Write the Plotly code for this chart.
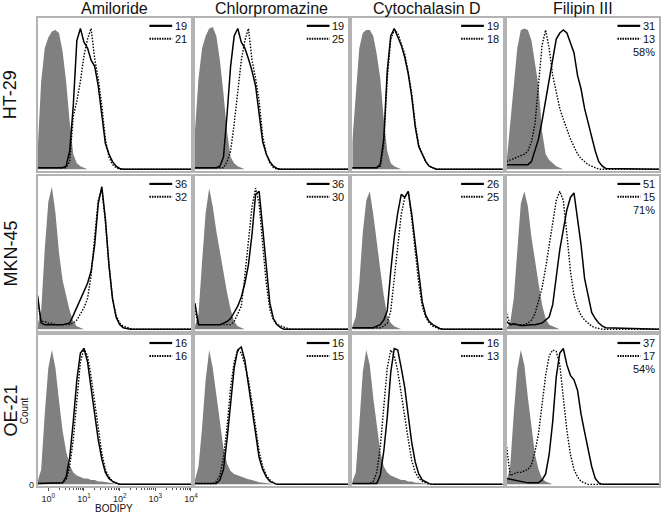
import plotly.graph_objects as go

W, H = 669, 517

# log10(BODIPY) positions shared by every histogram
LOG_X = [-0.3, -0.2, -0.1, 0.0, 0.1, 0.2, 0.3, 0.4, 0.5, 0.6, 0.7, 0.8, 0.9,
         1.0, 1.1, 1.2, 1.3, 1.4, 1.5, 1.6, 1.7, 1.8, 1.9, 2.0, 2.1, 2.2,
         2.3, 2.4, 2.5, 4.0]

DRUGS = ["Amiloride", "Chlorpromazine", "Cytochalasin D", "Filipin III"]
CELLS = ["HT-29", "MKN-45", "OE-21"]

# ---- HT-29 ----
ht29_amil_ctrl = [0.12, 0.58, 0.8, 0.87, 0.91, 0.92, 0.9, 0.78, 0.58, 0.31, 0.1, 0.04, 0.02, 0.01]
ht29_amil_solid = [0.01, 0.01, 0.01, 0.01, 0.01, 0.01, 0.01, 0.01, 0.02, 0.12, 0.42, 0.85, 0.93, 0.84,
                   0.8, 0.72, 0.68, 0.55, 0.36, 0.17, 0.1, 0.05, 0.02, 0.005]
ht29_amil_dot = [0.01, 0.01, 0.01, 0.01, 0.01, 0.01, 0.01, 0.01, 0.01, 0.05, 0.35, 0.45, 0.58, 0.75,
                 0.86, 0.93, 0.73, 0.6, 0.42, 0.2, 0.08, 0.03, 0.01]

ht29_chlor_ctrl = [0.25, 0.6, 0.8, 0.88, 0.93, 0.94, 0.88, 0.72, 0.5, 0.25, 0.08, 0.04, 0.02, 0.01]
ht29_chlor_solid = [0.01, 0.01, 0.01, 0.01, 0.01, 0.01, 0.01, 0.02, 0.08, 0.36, 0.68, 0.88, 0.93, 0.84,
                    0.8, 0.73, 0.65, 0.55, 0.38, 0.18, 0.1, 0.05, 0.02, 0.005]
ht29_chlor_dot = [0.01, 0.01, 0.01, 0.01, 0.01, 0.01, 0.01, 0.01, 0.01, 0.05, 0.12, 0.3, 0.5, 0.72,
                  0.85, 0.93, 0.72, 0.6, 0.45, 0.22, 0.1, 0.04, 0.01]

ht29_cyto_ctrl = [0.18, 0.47, 0.8, 0.9, 0.92, 0.92, 0.88, 0.76, 0.6, 0.33, 0.12, 0.04, 0.02, 0.01]
ht29_cyto_solid = [0.01, 0.01, 0.01, 0.01, 0.01, 0.01, 0.01, 0.01, 0.03, 0.2, 0.65, 0.88, 0.93, 0.88,
                   0.82, 0.74, 0.63, 0.48, 0.28, 0.15, 0.1, 0.05, 0.02, 0.01]
ht29_cyto_dot = [0.01, 0.01, 0.01, 0.01, 0.01, 0.01, 0.01, 0.01, 0.02, 0.16, 0.6, 0.86, 0.92, 0.9,
                 0.83, 0.76, 0.64, 0.5, 0.3, 0.16, 0.1, 0.05, 0.02, 0.01]

ht29_fili_ctrl = [0.05, 0.3, 0.6, 0.8, 0.92, 0.93, 0.92, 0.85, 0.7, 0.55, 0.25, 0.1, 0.06, 0.04, 0.02, 0.01]
ht29_fili_solid = [0.03, 0.03, 0.03, 0.03, 0.03, 0.03, 0.03, 0.05, 0.12, 0.2, 0.32, 0.45, 0.58, 0.73,
                   0.86, 0.9, 0.92, 0.9, 0.83, 0.77, 0.62, 0.53, 0.4, 0.3, 0.22, 0.12, 0.05, 0.02, 0.005]
ht29_fili_dot = [0.05, 0.06, 0.07, 0.08, 0.09, 0.1, 0.12, 0.18, 0.3, 0.55, 0.82, 0.92, 0.8, 0.62,
                 0.5, 0.4, 0.33, 0.26, 0.2, 0.15, 0.1, 0.07, 0.05, 0.03, 0.02, 0.01]

# ---- MKN-45 ----
mkn_amil_ctrl = [0.03, 0.12, 0.52, 0.83, 0.93, 0.76, 0.5, 0.32, 0.22, 0.12, 0.05, 0.02, 0.01]
mkn_amil_solid = [0.22, 0.04, 0.03, 0.03, 0.03, 0.03, 0.03, 0.03, 0.035, 0.04, 0.09, 0.14, 0.19, 0.24,
                  0.3, 0.38, 0.55, 0.82, 0.93, 0.72, 0.42, 0.2, 0.08, 0.03, 0.01, 0.005]
mkn_amil_dot = [0.18, 0.05, 0.05, 0.04, 0.04, 0.03, 0.03, 0.03, 0.03, 0.03, 0.04, 0.06, 0.1, 0.14,
                0.2, 0.35, 0.6, 0.84, 0.92, 0.7, 0.42, 0.2, 0.09, 0.04, 0.02, 0.01, 0.005]

mkn_chlor_ctrl = [0.02, 0.1, 0.44, 0.76, 0.92, 0.8, 0.64, 0.5, 0.37, 0.24, 0.13, 0.05, 0.02, 0.01]
mkn_chlor_solid = [0.17, 0.03, 0.03, 0.03, 0.03, 0.03, 0.03, 0.03, 0.04, 0.05, 0.07, 0.11, 0.15, 0.21,
                   0.3, 0.42, 0.62, 0.88, 0.9, 0.66, 0.4, 0.17, 0.07, 0.03, 0.01]
mkn_chlor_dot = [0.12, 0.03, 0.03, 0.03, 0.03, 0.03, 0.03, 0.03, 0.03, 0.03, 0.03, 0.05, 0.1, 0.15,
                 0.35, 0.58, 0.8, 0.92, 0.82, 0.55, 0.3, 0.13, 0.06, 0.03, 0.02, 0.01, 0.005]

mkn_cyto_ctrl = [0.02, 0.08, 0.3, 0.63, 0.84, 0.9, 0.75, 0.55, 0.39, 0.22, 0.09, 0.04, 0.02, 0.01]
mkn_cyto_solid = [0.01, 0.01, 0.01, 0.01, 0.01, 0.01, 0.01, 0.02, 0.03, 0.06, 0.12, 0.38, 0.6, 0.76,
                  0.88, 0.86, 0.9, 0.75, 0.56, 0.35, 0.18, 0.09, 0.05, 0.03, 0.015, 0.005]
mkn_cyto_dot = [0.01, 0.01, 0.01, 0.01, 0.01, 0.01, 0.01, 0.01, 0.01, 0.02, 0.04, 0.12, 0.32, 0.55,
                0.75, 0.86, 0.9, 0.72, 0.52, 0.3, 0.15, 0.08, 0.04, 0.02, 0.01]

mkn_fili_ctrl = [0.01, 0.04, 0.2, 0.52, 0.82, 0.9, 0.8, 0.6, 0.44, 0.3, 0.16, 0.07, 0.03, 0.02, 0.01]
mkn_fili_solid = [0.05, 0.03, 0.035, 0.03, 0.025, 0.025, 0.03, 0.03, 0.03, 0.035, 0.04, 0.06, 0.08, 0.16,
                  0.33, 0.52, 0.65, 0.78, 0.86, 0.89, 0.72, 0.55, 0.33, 0.21, 0.11, 0.07, 0.04, 0.02, 0.01]
mkn_fili_dot = [0.1, 0.03, 0.03, 0.03, 0.03, 0.03, 0.04, 0.06, 0.1, 0.18, 0.27, 0.4, 0.54, 0.69,
                0.84, 0.9, 0.84, 0.62, 0.38, 0.22, 0.14, 0.09, 0.06, 0.04, 0.02, 0.01, 0.005]

# ---- OE-21 ----
oe_amil_ctrl = [0.02, 0.1, 0.47, 0.78, 0.9, 0.78, 0.56, 0.36, 0.22, 0.13, 0.08, 0.06, 0.05, 0.04,
                0.04, 0.03, 0.03, 0.02, 0.02, 0.015, 0.01, 0.01, 0.005]
oe_amil_solid = [0.005, 0.005, 0.005, 0.005, 0.005, 0.005, 0.005, 0.01, 0.05, 0.18, 0.42, 0.7, 0.88, 0.91,
                 0.82, 0.66, 0.47, 0.3, 0.17, 0.08, 0.04, 0.02, 0.01]
oe_amil_dot = [0.005, 0.005, 0.005, 0.005, 0.005, 0.005, 0.005, 0.01, 0.03, 0.12, 0.3, 0.58, 0.82, 0.91,
               0.86, 0.72, 0.55, 0.36, 0.21, 0.1, 0.05, 0.02, 0.01]

oe_chlor_ctrl = [0.03, 0.12, 0.38, 0.7, 0.9, 0.78, 0.6, 0.4, 0.24, 0.14, 0.09, 0.07, 0.06, 0.05,
                 0.04, 0.035, 0.03, 0.02, 0.015, 0.01, 0.01, 0.005]
oe_chlor_solid = [0.005, 0.005, 0.005, 0.005, 0.005, 0.005, 0.005, 0.03, 0.1, 0.3, 0.53, 0.78, 0.9, 0.92,
                  0.83, 0.67, 0.5, 0.32, 0.18, 0.1, 0.05, 0.02, 0.01]
oe_chlor_dot = [0.005, 0.005, 0.005, 0.005, 0.005, 0.005, 0.02, 0.06, 0.18, 0.38, 0.65, 0.82, 0.9, 0.88,
                0.8, 0.7, 0.55, 0.38, 0.22, 0.12, 0.06, 0.03, 0.01]

oe_cyto_ctrl = [0.02, 0.08, 0.4, 0.75, 0.9, 0.8, 0.58, 0.38, 0.22, 0.12, 0.08, 0.06, 0.05, 0.04,
                0.03, 0.03, 0.02, 0.02, 0.01, 0.01, 0.005]
oe_cyto_solid = [0.005, 0.005, 0.005, 0.005, 0.005, 0.005, 0.005, 0.005, 0.06, 0.22, 0.45, 0.75, 0.91, 0.9,
                 0.78, 0.65, 0.46, 0.28, 0.15, 0.07, 0.03, 0.015, 0.005]
oe_cyto_dot = [0.005, 0.005, 0.005, 0.005, 0.005, 0.005, 0.02, 0.08, 0.25, 0.5, 0.78, 0.9, 0.86, 0.76,
               0.6, 0.46, 0.3, 0.16, 0.08, 0.04, 0.02, 0.01]

oe_fili_ctrl = [0.02, 0.12, 0.47, 0.77, 0.9, 0.8, 0.58, 0.38, 0.2, 0.1, 0.04, 0.02, 0.01]
oe_fili_solid = [0.04, 0.035, 0.03, 0.025, 0.02, 0.015, 0.01, 0.01, 0.01, 0.01, 0.03, 0.07, 0.2, 0.42,
                 0.72, 0.88, 0.91, 0.8, 0.73, 0.7, 0.63, 0.47, 0.35, 0.24, 0.12, 0.04, 0.01]
oe_fili_dot = [0.25, 0.06, 0.07, 0.08, 0.08, 0.09, 0.1, 0.13, 0.22, 0.34, 0.54, 0.73, 0.86, 0.9,
               0.89, 0.8, 0.58, 0.36, 0.2, 0.1, 0.05, 0.02, 0.01]

# legend numbers (solid, dotted) and % where shown
solid_vals = [[19, 19, 19, 31], [36, 36, 26, 51], [16, 16, 16, 37]]
dot_vals = [[21, 25, 18, 13], [32, 30, 25, 15], [16, 15, 13, 17]]
pct_vals = [[None, None, None, "58%"], [None, None, None, "71%"], [None, None, None, "54%"]]

panels = [
    [(ht29_amil_ctrl, ht29_amil_solid, ht29_amil_dot), (ht29_chlor_ctrl, ht29_chlor_solid, ht29_chlor_dot),
     (ht29_cyto_ctrl, ht29_cyto_solid, ht29_cyto_dot), (ht29_fili_ctrl, ht29_fili_solid, ht29_fili_dot)],
    [(mkn_amil_ctrl, mkn_amil_solid, mkn_amil_dot), (mkn_chlor_ctrl, mkn_chlor_solid, mkn_chlor_dot),
     (mkn_cyto_ctrl, mkn_cyto_solid, mkn_cyto_dot), (mkn_fili_ctrl, mkn_fili_solid, mkn_fili_dot)],
    [(oe_amil_ctrl, oe_amil_solid, oe_amil_dot), (oe_chlor_ctrl, oe_chlor_solid, oe_chlor_dot),
     (oe_cyto_ctrl, oe_cyto_solid, oe_cyto_dot), (oe_fili_ctrl, oe_fili_solid, oe_fili_dot)],
]

# panel pixel boxes
COL_PX = [(38, 193), (197, 352), (356, 508), (512, 666)]
ROW_PX = [(18, 172), (177, 333), (337, 489)]

FONT = "Liberation Sans, Arial, sans-serif"
xs = [10 ** v for v in LOG_X]


def pad(vals):
    return vals + [0] * (len(LOG_X) - len(vals))


def px(x):
    return x / W


def py(y):
    return 1 - y / H


def note(x, y, text, size, anchor="center", angle=0, yanchor="middle"):
    return dict(x=px(x), y=py(y), xref="paper", yref="paper", text=text, showarrow=False,
                xanchor=anchor, yanchor=yanchor, textangle=angle, borderpad=0,
                font=dict(size=size, color="#111", family=FONT))


fig = go.Figure()
layout = {}
annotations = []
shapes = []

for r in range(3):
    for c in range(4):
        n = r * 4 + c + 1
        sfx = "" if n == 1 else str(n)
        ctrl, solid, dot = panels[r][c]
        xa, ya = "x" + sfx, "y" + sfx

        fig.add_trace(go.Scatter(x=xs, y=pad(ctrl), xaxis=xa, yaxis=ya, mode="lines",
                                 line=dict(width=0, color="#808080"), fill="tozeroy",
                                 fillcolor="#808080", showlegend=False))
        fig.add_trace(go.Scatter(x=xs, y=pad(dot), xaxis=xa, yaxis=ya, mode="lines",
                                 line=dict(width=1.4, color="black", dash="1.5px,1.5px"),
                                 showlegend=False))
        fig.add_trace(go.Scatter(x=xs, y=pad(solid), xaxis=xa, yaxis=ya, mode="lines",
                                 line=dict(width=1.5, color="black"), showlegend=False))

        x0, x1 = COL_PX[c]
        y0, y1 = ROW_PX[r]
        corner = (r == 2 and c == 0)

        xaxis = dict(domain=[px(x0), px(x1)], type="log", range=[-0.3, 4.0], anchor=ya,
                     showline=True, mirror=True, linecolor="#b3b3b3", linewidth=1.5,
                     showgrid=False, zeroline=False, showticklabels=False, ticks="")
        yaxis = dict(domain=[py(y1), py(y0)], range=[-0.012, 1.0], anchor=xa,
                     showline=True, mirror=True, linecolor="#b3b3b3", linewidth=1.5,
                     showgrid=False, zeroline=False, showticklabels=False, ticks="")
        if corner:
            minor_vals = [m * 10 ** e for e in range(0, 4) for m in range(2, 10)]
            xaxis.update(showticklabels=True, ticks="outside", ticklen=3, tickcolor="#555",
                         tickvals=[1, 10, 100, 1000, 10000],
                         ticktext=["10<sup>0</sup>", "10<sup>1</sup>", "10<sup>2</sup>",
                                   "10<sup>3</sup>", "10<sup>4</sup>"],
                         tickfont=dict(size=9, color="#222", family=FONT),
                         minor=dict(tickvals=minor_vals, ticks="outside", ticklen=2, tickcolor="#555"))
            yaxis.update(showticklabels=True, tickvals=[0], ticktext=["0"], ticks="",
                         tickfont=dict(size=9, color="#222", family=FONT))
        layout["xaxis" + sfx] = xaxis
        layout["yaxis" + sfx] = yaxis

        # little legend in the top-right corner
        shapes.append(dict(type="line", xref="paper", yref="paper",
                           x0=px(x1 - 42), x1=px(x1 - 19), y0=py(y0 + 8), y1=py(y0 + 8),
                           line=dict(color="black", width=2.2)))
        shapes.append(dict(type="line", xref="paper", yref="paper",
                           x0=px(x1 - 42), x1=px(x1 - 19), y0=py(y0 + 21), y1=py(y0 + 21),
                           line=dict(color="black", width=2, dash="1.5px,1px")))
        annotations.append(note(x1 - 3, y0 + 8, str(solid_vals[r][c]), 11, "right"))
        annotations.append(note(x1 - 3, y0 + 21, str(dot_vals[r][c]), 11, "right"))
        if pct_vals[r][c]:
            annotations.append(note(x1 - 3, y0 + 34, pct_vals[r][c], 11, "right"))

# column titles
for c, name in enumerate(DRUGS):
    x0, x1 = COL_PX[c]
    annotations.append(note((x0 + x1) / 2, 9, name, 16))

# row titles
for r, name in enumerate(CELLS):
    y0, y1 = ROW_PX[r]
    annotations.append(note(11, (y0 + y1) / 2, name, 18, angle=-90))

# axis titles of the bottom-left panel
annotations.append(note(25, (ROW_PX[2][0] + ROW_PX[2][1]) / 2, "Count", 10, angle=-90))
annotations.append(note((COL_PX[0][0] + COL_PX[0][1]) / 2, 511, "BODIPY", 10))

fig.update_layout(**layout)
fig.update_layout(
    width=W, height=H,
    margin=dict(l=0, r=0, t=0, b=0),
    paper_bgcolor="white", plot_bgcolor="white",
    showlegend=False,
    annotations=annotations, shapes=shapes,
)

# the page body has a default 8px margin; drop it so the figure sits at the window corner
fig.write_html("out.html", config={"displayModeBar": False},
               post_script="document.body.style.margin='0';document.body.style.overflow='hidden';")
